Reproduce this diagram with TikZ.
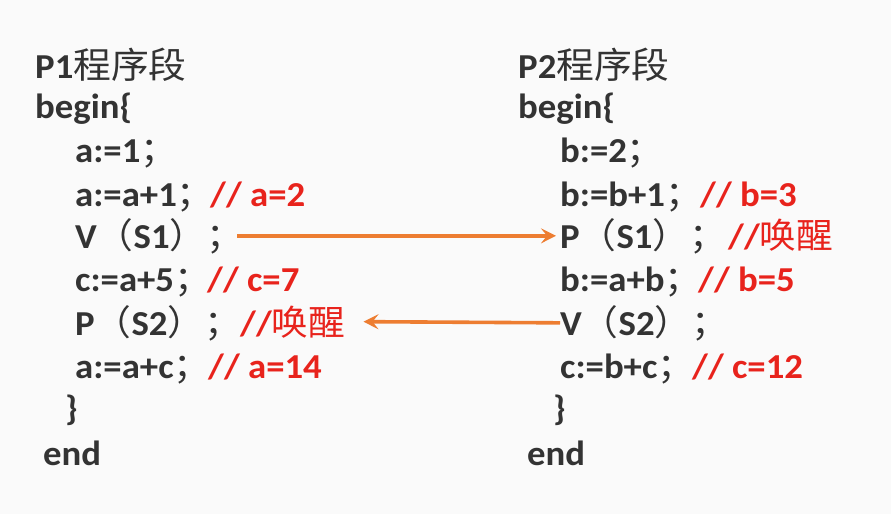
\documentclass[tikz,border=0pt]{standalone}
\usepackage{fontspec}
\setmainfont{Carlito}[FakeStretch=1.05]
\newfontfamily\cjk{Noto Sans CJK SC}[FakeStretch=1.05]
\usetikzlibrary{arrows.meta,positioning}
\definecolor{codegray}{HTML}{333333}
\definecolor{cmtred}{HTML}{E8231C}
\definecolor{wake}{HTML}{ED7D31}
\newcommand{\lpar}{{\cjk\mdseries （}}
\newcommand{\rpar}{{\cjk\mdseries ）}}
\newcommand{\semi}{\makebox[0.42em][l]{\cjk\mdseries ；}}

\begin{document}
\begin{tikzpicture}[
  x=1pt, y=-1pt,
  every node/.style={anchor=base west, inner sep=0pt, text=codegray,
                     font=\fontsize{35}{40}\selectfont\bfseries},
  cmt/.style={text=cmtred},
  arr/.style={-{Stealth[length=15pt,width=15pt,inset=6pt]}, line width=3.6pt, wake}
]
\fill[black!2] (0,0) rectangle (891,514);
\useasboundingbox (0,0) rectangle (891,514);

% P1 program
\node (p1title) at (35,78)  {P1{\cjk\mdseries\fontsize{36}{40}\selectfont 程序段}};
\node (p1begin) at (35,118) {begin\{};
\node (p1a)     at (75,162) {a:=1\semi};
\node (p1b)     at (75,206) {a:=a+1\semi};
\node (p1v)     at (75,248) {V\lpar S1\rpar\semi};
\node (p1c)     at (75,291) {c:=a+5\semi};
\node (p1p)     at (75,335) {P\lpar S2\rpar\semi};
\node (p1d)     at (75,378) {a:=a+c\semi};
\node (p1end1)  at (65,420) {\}};
\node (p1end)   at (43,465) {end};

\node[cmt] (cb1) at (210,206) {// a=2};
\node[cmt] (cc1) at (207,291) {// c=7};
\node[cmt] (cw1) at (240,335) {//{\cjk\mdseries 唤醒}};
\node[cmt] (cd1) at (208,378) {// a=14};

% P2 program
\node (p2title) at (518,78)  {P2{\cjk\mdseries\fontsize{36}{40}\selectfont 程序段}};
\node (p2begin) at (518,118) {begin\{};
\node (p2a)     at (560,162) {b:=2\semi};
\node (p2b)     at (560,206) {b:=b+1\semi};
\node (p2p)     at (560,248) {P\lpar S1\rpar\semi};
\node (p2c)     at (560,291) {b:=a+b\semi};
\node (p2v)     at (560,335) {V\lpar S2\rpar\semi};
\node (p2d)     at (560,378) {c:=b+c\semi};
\node (p2end1)  at (553,420) {\}};
\node (p2end)   at (527,465) {end};

\node[cmt] (cb2) at (700,206) {// b=3};
\node[cmt] (cw2) at (728,248) {//{\cjk\mdseries 唤醒}};
\node[cmt] (cc2) at (698,291) {// b=5};
\node[cmt] (cd2) at (692,378) {// c=12};

% signal / wait
\draw[arr] ([xshift=16pt]p1v.east) -- ([xshift=-4pt]p2p.west);
\draw[arr] (p2v.west) -- ([xshift=18pt]cw1.east);
\end{tikzpicture}
\end{document}
